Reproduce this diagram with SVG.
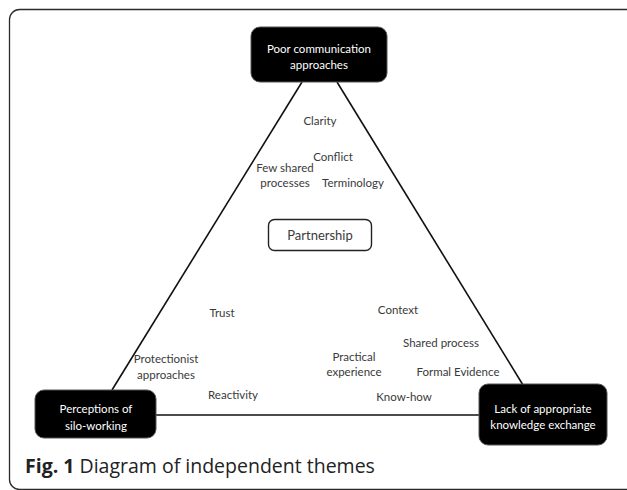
<svg xmlns="http://www.w3.org/2000/svg" width="627" height="490" viewBox="0 0 627 490">
<style>
.frame{fill:none;stroke:#2b2b2b;stroke-width:1.3}
.node{fill:#000;stroke:#555;stroke-width:1}
.nt{font-family:Lato,"Open Sans",sans-serif;font-size:11.5px;fill:#fff;text-anchor:middle}
.lb{font-family:Lato,"Open Sans",sans-serif;font-size:11.5px;fill:#3a3a3a;text-anchor:middle}
.edge{stroke:#111;stroke-width:1.6;fill:none}
.cap{font-family:"Open Sans",sans-serif;font-size:19.5px;fill:#222}
</style>
<rect class="frame" x="9.5" y="9.5" width="640" height="480" rx="10"/>
<g id="connectors">
<line class="edge" x1="302" y1="82" x2="112" y2="390"/>
<line class="edge" x1="337" y1="82" x2="523" y2="385"/>
<line class="edge" x1="155" y1="415" x2="480" y2="415"/>
</g>
<g id="node-communication">
<rect class="node" x="251" y="27" width="136" height="55" rx="9"/>
<text class="nt" x="319" y="53">Poor communication</text>
<text class="nt" x="319" y="69">approaches</text>
</g>
<g id="node-silo">
<rect class="node" x="35" y="390" width="121" height="48" rx="9"/>
<text class="nt" x="96" y="413">Perceptions of</text>
<text class="nt" x="96" y="430">silo-working</text>
</g>
<g id="node-knowledge">
<rect class="node" x="479" y="384" width="128" height="61" rx="9"/>
<text class="nt" x="543" y="413">Lack of appropriate</text>
<text class="nt" x="543" y="429">knowledge exchange</text>
</g>
<g id="node-partnership">
<rect x="268.5" y="219.5" width="103" height="31" rx="6" fill="#fff" stroke="#222" stroke-width="1.4"/>
<text class="lb" x="320" y="240" style="font-size:13px">Partnership</text>
</g>
<g id="labels">
<text class="lb" x="320" y="125">Clarity</text>
<text class="lb" x="333" y="161">Conflict</text>
<text class="lb" x="285" y="172">Few shared</text>
<text class="lb" x="285" y="187">processes</text>
<text class="lb" x="353" y="187">Terminology</text>
<text class="lb" x="222" y="317">Trust</text>
<text class="lb" x="166" y="363">Protectionist</text>
<text class="lb" x="166" y="379">approaches</text>
<text class="lb" x="233" y="399">Reactivity</text>
<text class="lb" x="398" y="314">Context</text>
<text class="lb" x="441" y="347">Shared process</text>
<text class="lb" x="354" y="361">Practical</text>
<text class="lb" x="354" y="376">experience</text>
<text class="lb" x="458" y="376">Formal Evidence</text>
<text class="lb" x="404" y="401">Know-how</text>
</g>
<text class="cap" x="25" y="473"><tspan font-weight="bold">Fig. 1</tspan> Diagram of independent themes</text>
</svg>
